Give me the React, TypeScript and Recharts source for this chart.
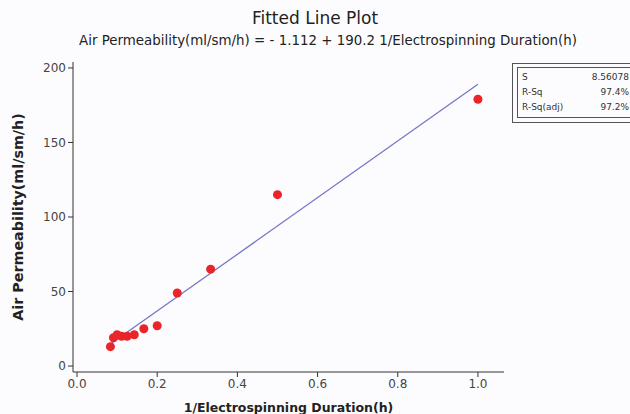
import React from 'react';
import { ScatterChart, Scatter, XAxis, YAxis, ZAxis } from 'recharts';

// electrospinning duration (h) 1..12 -> x = 1/duration
const durations = [1, 2, 3, 4, 5, 6, 7, 8, 9, 10, 11, 12];
const permeability = [179, 115, 65, 49, 27, 25, 21, 20, 20, 21, 19, 13];
const xTicks = [0, 0.2, 0.4, 0.6, 0.8, 1.0];
const yTicks = [0, 50, 100, 150, 200];
const intercept = -1.112;
const slope = 190.2;
const statRows = [
  { label: 'S', value: '8.56078' },
  { label: 'R-Sq', value: '97.4%' },
  { label: 'R-Sq(adj)', value: '97.2%' },
];

const points = durations.map((d, i) => ({ x: 1 / d, y: permeability[i] }));
const fitXs = [1 / 12, 1];
const fitLine = fitXs.map((x) => ({ x, y: intercept + slope * x }));

const FONT = '"DejaVu Sans", Verdana, sans-serif';
const X_DOMAIN = [-0.01, 1.065];
const Y_DOMAIN = [-4, 204];

const App: React.FC = () => {
  return (
    <div style={{ position: 'absolute', left: 0, top: 0, width: 630, height: 414, background: '#fcfcfe', fontFamily: FONT, overflow: 'hidden' }}>
      <div style={{ position: 'absolute', top: 8, width: 630, textAlign: 'center', fontSize: 17, color: '#222' }}>
        Fitted Line Plot
      </div>
      <div style={{ position: 'absolute', top: 33, left: 13, width: 630, textAlign: 'center', fontSize: 13.4, color: '#222' }}>
        Air Permeability(ml/sm/h) = - 1.112 + 190.2 1/Electrospinning Duration(h)
      </div>
      <ScatterChart width={630} height={414} margin={{ top: 62, right: 126, bottom: 0, left: 0 }}>
        <ZAxis range={[45, 45]} />
        <XAxis
          type="number"
          dataKey="x"
          domain={X_DOMAIN}
          ticks={xTicks}
          tickFormatter={(v: number) => v.toFixed(1)}
          height={42}
          stroke="#333"
          tickSize={5}
          tick={{ fill: '#444', fontSize: 12, fontFamily: FONT }}
          allowDataOverflow
          label={{ value: '1/Electrospinning Duration(h)', position: 'insideBottom', offset: 2, fill: '#222', fontSize: 12.5, fontWeight: 'bold', fontFamily: FONT }}
        />
        <XAxis xAxisId="top" type="number" dataKey="x" orientation="top" domain={X_DOMAIN} tick={false} tickLine={false} height={0} stroke="#333" allowDataOverflow />
        <YAxis
          type="number"
          dataKey="y"
          domain={Y_DOMAIN}
          ticks={yTicks}
          width={73}
          stroke="#333"
          tickSize={5}
          tick={{ fill: '#444', fontSize: 12, fontFamily: FONT }}
          allowDataOverflow
          label={{ value: 'Air Permeability(ml/sm/h)', angle: -90, position: 'insideLeft', offset: 18, style: { textAnchor: 'middle' }, fill: '#222', fontSize: 14.3, fontWeight: 'bold', fontFamily: FONT }}
        />
        <YAxis yAxisId="right" type="number" dataKey="y" orientation="right" domain={Y_DOMAIN} tick={false} tickLine={false} width={0} stroke="#333" allowDataOverflow />
        <Scatter data={fitLine} line={{ stroke: '#7478c8', strokeWidth: 1.3 }} shape={() => null} isAnimationActive={false} />
        <Scatter data={points} fill="#e8262a" shape="circle" isAnimationActive={false} />
      </ScatterChart>
      <div style={{ position: 'absolute', left: 512, top: 63, width: 130, height: 60, border: '1px solid #555', boxSizing: 'border-box' }} />
      <div style={{ position: 'absolute', left: 517, top: 67, width: 130, height: 51, border: '1px solid #555', boxSizing: 'border-box', padding: '2px 0 0 4px', fontSize: 9, color: '#333', lineHeight: '15px' }}>
        {statRows.map((r) => (
          <div key={r.label} style={{ display: 'flex', width: 107 }}>
            <span style={{ flex: 1 }}>{r.label}</span>
            <span>{r.value}</span>
          </div>
        ))}
      </div>
    </div>
  );
};

export default App;
